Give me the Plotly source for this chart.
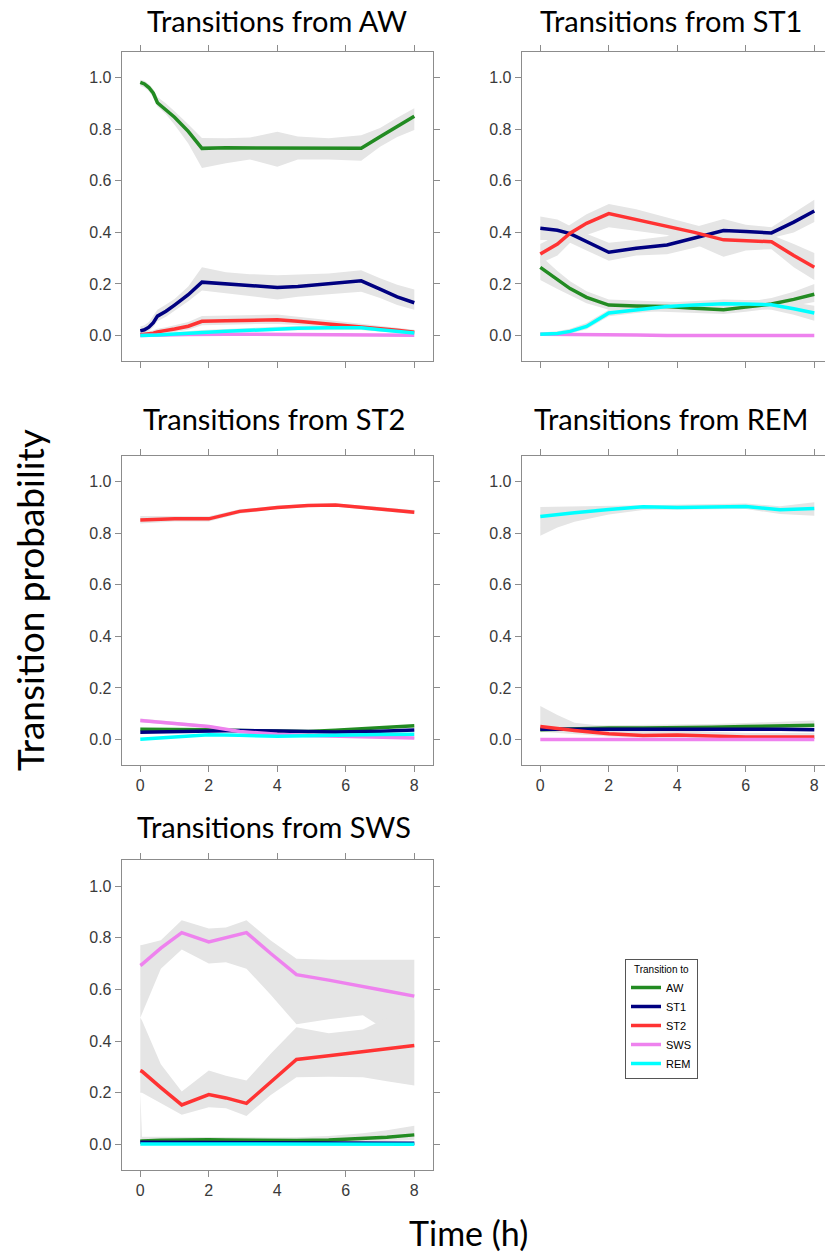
import plotly.graph_objects as go

W, H = 825, 1254

# ---------------- data ----------------
states = ["AW", "ST1", "ST2", "SWS", "REM"]
colors = ["#228B22", "#000080", "#FF3333", "#EE82EE", "#00FFFF"]
panel_titles = ["Transitions from AW", "Transitions from ST1", "Transitions from ST2",
                "Transitions from REM", "Transitions from SWS"]
x_ticks = [0, 2, 4, 6, 8]
y_ticks = [0.0, 0.2, 0.4, 0.6, 0.8, 1.0]
y_tick_labels = ["0.0", "0.2", "0.4", "0.6", "0.8", "1.0"]

# --- from AW ---
t_aw = [0, 0.12, 0.25, 0.38, 0.5, 0.75, 1.0, 1.4, 1.8, 2.5, 3.2, 4.0, 4.6, 5.5, 6.45, 7.0, 7.5, 8.0]
aw_aw = [0.982, 0.976, 0.962, 0.94, 0.903, 0.877, 0.847, 0.792, 0.726, 0.728, 0.728, 0.728, 0.728, 0.728, 0.726, 0.771, 0.811, 0.851]
aw_aw_hi = [0.992, 0.988, 0.975, 0.955, 0.925, 0.9, 0.87, 0.82, 0.766, 0.765, 0.768, 0.79, 0.772, 0.765, 0.777, 0.805, 0.845, 0.882]
aw_aw_lo = [0.968, 0.962, 0.948, 0.925, 0.888, 0.858, 0.818, 0.745, 0.65, 0.668, 0.683, 0.655, 0.683, 0.683, 0.678, 0.732, 0.77, 0.797]
aw_st1 = [0.018, 0.022, 0.032, 0.05, 0.075, 0.094, 0.118, 0.158, 0.207, 0.2, 0.192, 0.186, 0.19, 0.2, 0.212, 0.18, 0.15, 0.127]
aw_st1_hi = [0.035, 0.04, 0.052, 0.075, 0.1, 0.12, 0.142, 0.19, 0.265, 0.245, 0.238, 0.234, 0.236, 0.24, 0.253, 0.222, 0.197, 0.178]
aw_st1_lo = [0.005, 0.008, 0.016, 0.033, 0.055, 0.073, 0.097, 0.133, 0.175, 0.165, 0.152, 0.14, 0.15, 0.16, 0.17, 0.145, 0.118, 0.1]
aw_st2 = [0.003, 0.004, 0.005, 0.009, 0.014, 0.019, 0.025, 0.036, 0.055, 0.057, 0.059, 0.061, 0.055, 0.045, 0.035, 0.027, 0.02, 0.013]
aw_st2_hi = [0.012, 0.013, 0.015, 0.02, 0.026, 0.032, 0.04, 0.052, 0.076, 0.077, 0.078, 0.081, 0.073, 0.06, 0.048, 0.039, 0.03, 0.022]
aw_st2_lo = [0.0, 0.0, 0.0, 0.002, 0.005, 0.008, 0.013, 0.022, 0.04, 0.042, 0.044, 0.045, 0.041, 0.033, 0.024, 0.017, 0.011, 0.006]
aw_sws = [0.0, 0.0, 0.0, 0.0, 0.001, 0.002, 0.003, 0.004, 0.005, 0.005, 0.005, 0.004, 0.003, 0.002, 0.001, 0.001, 0.001, 0.001]
aw_rem = [0.0, 0.0, 0.0, 0.001, 0.002, 0.004, 0.006, 0.009, 0.012, 0.016, 0.02, 0.025, 0.028, 0.03, 0.03, 0.022, 0.015, 0.01]
aw_rem_hi = [0.004, 0.004, 0.004, 0.005, 0.007, 0.01, 0.013, 0.017, 0.021, 0.025, 0.029, 0.035, 0.038, 0.04, 0.04, 0.031, 0.024, 0.018]
aw_rem_lo = [0.0, 0.0, 0.0, 0.0, 0.0, 0.001, 0.002, 0.004, 0.006, 0.009, 0.013, 0.017, 0.02, 0.021, 0.021, 0.015, 0.009, 0.005]

# --- from ST1 ---
t_st1 = [0, 0.5, 0.87, 1.35, 2.0, 2.8, 3.7, 4.5, 5.35, 6.0, 6.75, 7.4, 8.0]
st1_st1 = [0.416, 0.408, 0.395, 0.365, 0.323, 0.338, 0.351, 0.378, 0.407, 0.403, 0.398, 0.44, 0.483]
st1_st1_hi = [0.462, 0.45, 0.425, 0.395, 0.36, 0.37, 0.385, 0.42, 0.452, 0.43, 0.42, 0.475, 0.527]
st1_st1_lo = [0.37, 0.37, 0.36, 0.33, 0.29, 0.31, 0.315, 0.34, 0.37, 0.375, 0.378, 0.4, 0.44]
st1_st2 = [0.316, 0.355, 0.397, 0.435, 0.473, 0.45, 0.425, 0.4, 0.371, 0.367, 0.364, 0.31, 0.265]
st1_st2_hi = [0.355, 0.39, 0.43, 0.47, 0.51, 0.49, 0.458, 0.43, 0.4, 0.395, 0.39, 0.355, 0.32]
st1_st2_lo = [0.28, 0.31, 0.36, 0.39, 0.42, 0.405, 0.39, 0.355, 0.305, 0.33, 0.335, 0.265, 0.215]
st1_aw = [0.264, 0.215, 0.182, 0.148, 0.118, 0.114, 0.112, 0.106, 0.1, 0.11, 0.122, 0.14, 0.16]
st1_aw_hi = [0.31, 0.25, 0.21, 0.172, 0.14, 0.135, 0.132, 0.127, 0.122, 0.13, 0.145, 0.17, 0.2]
st1_aw_lo = [0.215, 0.18, 0.155, 0.125, 0.1, 0.095, 0.093, 0.087, 0.083, 0.092, 0.103, 0.115, 0.13]
st1_sws = [0.005, 0.005, 0.004, 0.004, 0.003, 0.002, 0.0, 0.0, 0.0, 0.0, 0.0, 0.0, 0.0]
st1_rem = [0.005, 0.008, 0.016, 0.035, 0.087, 0.1, 0.112, 0.118, 0.123, 0.122, 0.119, 0.104, 0.087]
st1_rem_hi = [0.012, 0.016, 0.026, 0.048, 0.1, 0.115, 0.128, 0.135, 0.14, 0.138, 0.138, 0.128, 0.115]
st1_rem_lo = [0.0, 0.002, 0.008, 0.024, 0.075, 0.087, 0.098, 0.103, 0.107, 0.106, 0.1, 0.08, 0.057]

# --- from ST2 ---
t_st2 = [0, 1, 2, 2.9, 4, 4.9, 5.7, 7, 8]
st2_st2 = [0.852, 0.856, 0.856, 0.885, 0.9, 0.908, 0.91, 0.895, 0.882]
st2_st2_hi = [0.867, 0.866, 0.866, 0.893, 0.907, 0.914, 0.916, 0.902, 0.89]
st2_st2_lo = [0.838, 0.846, 0.846, 0.877, 0.893, 0.902, 0.904, 0.888, 0.874]
st2_sws = [0.074, 0.062, 0.05, 0.031, 0.02, 0.015, 0.012, 0.009, 0.006]
st2_sws_hi = [0.081, 0.068, 0.056, 0.036, 0.025, 0.02, 0.016, 0.013, 0.01]
st2_sws_lo = [0.067, 0.056, 0.044, 0.026, 0.015, 0.01, 0.008, 0.005, 0.002]
st2_aw = [0.04, 0.04, 0.038, 0.035, 0.033, 0.031, 0.036, 0.045, 0.053]
st2_st1 = [0.028, 0.031, 0.035, 0.035, 0.033, 0.03, 0.029, 0.032, 0.037]
st2_rem = [0.001, 0.01, 0.018, 0.016, 0.013, 0.014, 0.017, 0.019, 0.02]

# --- from REM ---
t_rem = [0, 0.5, 1, 2, 3, 4, 5, 6, 7, 8]
rem_rem = [0.865, 0.873, 0.88, 0.892, 0.903, 0.9, 0.902, 0.904, 0.891, 0.896]
rem_rem_hi = [0.902, 0.903, 0.905, 0.908, 0.91, 0.912, 0.913, 0.916, 0.905, 0.92]
rem_rem_lo = [0.79, 0.822, 0.845, 0.873, 0.89, 0.89, 0.893, 0.894, 0.875, 0.868]
rem_st2 = [0.05, 0.042, 0.035, 0.022, 0.015, 0.017, 0.012, 0.01, 0.01, 0.01]
rem_st2_hi = [0.13, 0.095, 0.065, 0.05, 0.04, 0.037, 0.03, 0.025, 0.025, 0.025]
rem_st2_lo = [0.03, 0.027, 0.022, 0.012, 0.007, 0.007, 0.005, 0.003, 0.003, 0.003]
rem_st1 = [0.04, 0.04, 0.04, 0.04, 0.04, 0.041, 0.042, 0.04, 0.04, 0.038]
rem_aw = [0.038, 0.04, 0.042, 0.045, 0.045, 0.045, 0.047, 0.05, 0.053, 0.055]
rem_aw_hi = [0.05, 0.052, 0.053, 0.055, 0.056, 0.057, 0.06, 0.064, 0.068, 0.074]
rem_aw_lo = [0.028, 0.03, 0.032, 0.035, 0.035, 0.035, 0.036, 0.038, 0.04, 0.04]
rem_sws = [0.0, 0.0, 0.0, 0.0, 0.0, 0.0, 0.0, 0.0, 0.0, 0.0]

# --- from SWS ---
t_sws = [0, 0.05, 0.6, 1.21, 2.0, 2.5, 3.1, 3.8, 4.56, 5.5, 6.5, 7.2, 8.0]
sws_sws = [0.693, 0.697, 0.76, 0.82, 0.784, 0.8, 0.82, 0.74, 0.657, 0.636, 0.613, 0.594, 0.574]
sws_sws_hi = [0.771, 0.772, 0.79, 0.868, 0.836, 0.84, 0.868, 0.79, 0.719, 0.715, 0.715, 0.715, 0.715]
sws_sws_lo = [0.49, 0.5, 0.68, 0.755, 0.7, 0.705, 0.68, 0.58, 0.465, 0.485, 0.5, 0.44, 0.4]
sws_st2 = [0.286, 0.283, 0.22, 0.153, 0.193, 0.18, 0.159, 0.24, 0.329, 0.343, 0.358, 0.37, 0.383]
sws_st2_hi = [0.49, 0.48, 0.31, 0.205, 0.286, 0.266, 0.247, 0.35, 0.454, 0.43, 0.445, 0.49, 0.52]
sws_st2_lo = [0.2, 0.2, 0.16, 0.115, 0.144, 0.14, 0.11, 0.19, 0.26, 0.262, 0.26, 0.245, 0.228]
sws_aw = [0.012, 0.013, 0.016, 0.018, 0.018, 0.017, 0.016, 0.015, 0.015, 0.017, 0.022, 0.028, 0.037]
sws_aw_hi = [0.2, 0.03, 0.03, 0.03, 0.03, 0.029, 0.028, 0.027, 0.028, 0.033, 0.043, 0.055, 0.072]
sws_aw_lo = [0.005, 0.006, 0.008, 0.009, 0.009, 0.009, 0.008, 0.007, 0.007, 0.008, 0.01, 0.013, 0.017]
sws_st1 = [0.008, 0.008, 0.008, 0.008, 0.008, 0.007, 0.007, 0.006, 0.006, 0.006, 0.005, 0.005, 0.005]
sws_rem = [0.002, 0.002, 0.002, 0.002, 0.002, 0.002, 0.001, 0.001, 0.001, 0.001, 0.001, 0.001, 0.001]

# ---------------- assembly ----------------
panels = [
    dict(t=t_aw, lines=[aw_aw, aw_st1, aw_st2, aw_sws, aw_rem],
         bands=[(aw_aw_lo, aw_aw_hi), (aw_st1_lo, aw_st1_hi), (aw_st2_lo, aw_st2_hi), (aw_rem_lo, aw_rem_hi)]),
    dict(t=t_st1, lines=[st1_aw, st1_st1, st1_st2, st1_sws, st1_rem],
         bands=[(st1_st1_lo, st1_st1_hi), (st1_st2_lo, st1_st2_hi), (st1_aw_lo, st1_aw_hi), (st1_rem_lo, st1_rem_hi)]),
    dict(t=t_st2, lines=[st2_aw, st2_st1, st2_st2, st2_sws, st2_rem],
         bands=[(st2_st2_lo, st2_st2_hi), (st2_sws_lo, st2_sws_hi)]),
    dict(t=t_rem, lines=[rem_aw, rem_st1, rem_st2, rem_sws, rem_rem],
         bands=[(rem_rem_lo, rem_rem_hi), (rem_st2_lo, rem_st2_hi), (rem_aw_lo, rem_aw_hi)]),
    dict(t=t_sws, lines=[sws_aw, sws_st1, sws_st2, sws_sws, sws_rem],
         bands=[(sws_sws_lo, sws_sws_hi), (sws_st2_lo, sws_st2_hi), (sws_aw_lo, sws_aw_hi)]),
]

# panel boxes in pixels: left, right, top, bottom
boxes = [(121.7, 432.7, 51.7, 361.0), (521.7, 825.0, 51.7, 361.0),
         (121.7, 432.7, 455.7, 765.0), (521.7, 825.0, 455.7, 765.0),
         (121.7, 432.7, 860.0, 1170.0)]
px_per_unit = 34.25
x0_offset = 18.6
show_xlabels = [False, False, True, True, True]
right_col = [False, True, False, True, False]
title_pos = [(277, 20), (671, 20), (274, 419), (671, 419), (274, 826)]

fig = go.Figure()
layout = dict(width=W, height=H, margin=dict(l=0, r=0, t=0, b=0),
              paper_bgcolor="white", plot_bgcolor="white", showlegend=True)

band_col = "rgb(229,229,229)"
axis_col = "#8c8c8c"
tick_font = dict(family="Liberation Sans, Arial", size=16, color="#3a3a3a")

for i, (p, box) in enumerate(zip(panels, boxes)):
    k = "" if i == 0 else str(i + 1)
    xa, ya = "x" + k, "y" + k
    l, r, tp, bt = box
    xmin = -x0_offset / px_per_unit
    xmax = xmin + (r - l) / px_per_unit
    layout["xaxis" + k] = dict(
        domain=[l / W, r / W], anchor=ya, range=[xmin, xmax],
        tickvals=x_ticks, ticktext=[str(v) for v in x_ticks],
        showticklabels=show_xlabels[i], ticks="outside", ticklen=6, tickcolor=axis_col,
        showline=True, linecolor=axis_col, linewidth=1, mirror="ticks",
        showgrid=False, zeroline=False, tickfont=tick_font, fixedrange=True)
    layout["yaxis" + k] = dict(
        domain=[1 - bt / H, 1 - tp / H], anchor=xa, range=[-0.099, 1.101],
        tickvals=y_ticks, ticktext=y_tick_labels,
        ticks="outside", ticklen=6, tickcolor=axis_col,
        showline=True, linecolor=axis_col, linewidth=1,
        mirror=False if right_col[i] else "ticks",
        showgrid=False, zeroline=False, tickfont=tick_font, fixedrange=True)
    t = p["t"]
    for lo, hi in p["bands"]:
        fig.add_trace(go.Scatter(
            x=list(t) + list(t)[::-1], y=list(hi) + list(lo)[::-1],
            fill="toself", fillcolor=band_col, line=dict(width=0, color=band_col),
            mode="lines", hoverinfo="skip", showlegend=False, xaxis=xa, yaxis=ya))
    for s, c, vals in zip(states, colors, p["lines"]):
        fig.add_trace(go.Scatter(
            x=t, y=vals, mode="lines", line=dict(color=c, width=3.5),
            name=s, legendgroup=s, showlegend=(i == 0), xaxis=xa, yaxis=ya))

annotations = []
for txt, (cx, cy) in zip(panel_titles, title_pos):
    annotations.append(dict(text=txt, x=cx / W, y=1 - cy / H, xref="paper", yref="paper",
                            xanchor="center", yanchor="middle", showarrow=False,
                            font=dict(family="Lato", size=29, color="black")))
annotations.append(dict(text="Transition probability", x=29 / W, y=1 - 600 / H,
                        xref="paper", yref="paper", xanchor="center", yanchor="middle",
                        textangle=-90, showarrow=False,
                        font=dict(family="Lato", size=37, color="black")))
annotations.append(dict(text="Time (h)", x=468 / W, y=1 - 1232 / H,
                        xref="paper", yref="paper", xanchor="center", yanchor="middle",
                        showarrow=False, font=dict(family="Lato", size=34, color="black")))
layout["annotations"] = annotations
layout["legend"] = dict(x=625 / W, y=1 - 959 / H, xanchor="left", yanchor="top",
                        bgcolor="white", bordercolor="#555555", borderwidth=1,
                        font=dict(family="Liberation Sans, Arial", size=11, color="black"),
                        title=dict(text="Transition to", side="top center",
                                   font=dict(family="Liberation Sans, Arial", size=10, color="black")),
                        itemwidth=30, tracegroupgap=0)

fig.update_layout(**layout)
fig.write_html("out.html")
